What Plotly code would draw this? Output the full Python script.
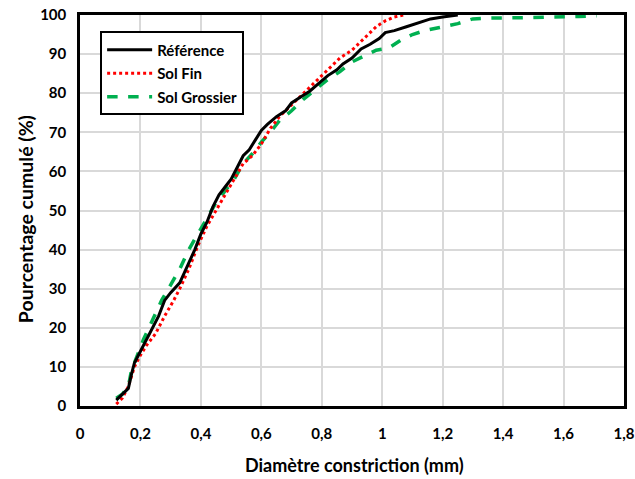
import plotly.graph_objects as go

ref_x = [0.12,0.14,0.16,0.17,0.18,0.20,0.22,0.24,0.26,0.28,0.30,0.33,0.35,0.38,0.40,0.42,0.44,0.46,0.48,0.50,0.52,0.54,0.56,0.58,0.60,0.62,0.65,0.68,0.70,0.73,0.76,0.79,0.82,0.85,0.87,0.90,0.93,0.96,0.99,1.01,1.04,1.08,1.12,1.16,1.20,1.25]
ref_y = [1.5,3,4.5,8,11,14,17,20,23,27,29,31.5,35,40,44,47,51,54,56,58,61,64,65.5,68,70.5,72,74,75.5,77.5,79,80.5,82.5,84.5,86,87.5,89,91.3,92.5,94,95.5,96,97,98,99,99.5,100]

fin_x = [0.12,0.14,0.16,0.18,0.20,0.22,0.25,0.28,0.31,0.33,0.36,0.39,0.42,0.45,0.48,0.51,0.54,0.57,0.60,0.63,0.66,0.70,0.74,0.78,0.82,0.86,0.90,0.94,0.98,1.01,1.04,1.07]
fin_y = [0.5,2,5,10,13,15.5,18.5,23,27,30,35,41,46,50,54,58,62,64,67,71,74,77,80,83,86,89,91,94,97,98.5,99.5,100]

gros_x = [0.12,0.14,0.16,0.17,0.19,0.21,0.24,0.27,0.30,0.33,0.36,0.39,0.42,0.45,0.48,0.51,0.54,0.57,0.60,0.63,0.66,0.70,0.74,0.78,0.82,0.86,0.90,0.94,0.98,1.02,1.06,1.10,1.14,1.19,1.25,1.30,1.35,1.45,1.55,1.65,1.71]
gros_y = [2,3,5,9,13,17,22,27,31,35,40,44,48,52,55,58,62,64.5,67.5,70,73,75.5,78.5,81,83.5,85.5,88,89.5,91,91.5,93.5,95,96,96.8,97.8,99,99.2,99.3,99.4,99.6,99.8]

x_title = "Diamètre constriction (mm)"
y_title = "Pourcentage cumulé (%)"

FONT = "Lato"

fig = go.Figure()
fig.add_trace(go.Scatter(x=gros_x, y=gros_y, mode="lines", name="Sol Grossier", legendgroup="c",
                         line=dict(color="#00b050", width=3.5, dash="dash"), legendrank=3))
fig.add_trace(go.Scatter(x=fin_x, y=fin_y, mode="lines", name="Sol Fin", legendgroup="b",
                         line=dict(color="#ff0000", width=3, dash="dot"), legendrank=2))
fig.add_trace(go.Scatter(x=ref_x, y=ref_y, mode="lines", name="Référence", legendgroup="a",
                         line=dict(color="#000000", width=3), legendrank=1))

fig.update_layout(
    width=635, height=479,
    margin=dict(l=80, r=11, t=15, b=73),
    paper_bgcolor="white", plot_bgcolor="white",
    separators=", ",
    font=dict(family=FONT, size=15, color="#000000"),
    legend=dict(x=0.037, y=0.958, xanchor="left", yanchor="top",
                bgcolor="white", bordercolor="black", borderwidth=2,
                font=dict(family=FONT, size=15, color="black", weight="bold"),
                traceorder="grouped", itemwidth=45, tracegroupgap=1),
    annotations=[
        dict(text=x_title, xref="paper", yref="paper", x=0.504, y=-0.151,
             xanchor="center", yanchor="middle", showarrow=False,
             font=dict(family=FONT, size=18, weight="bold", color="black")),
        dict(text=y_title, xref="paper", yref="paper", x=-0.101, y=0.478,
             xanchor="center", yanchor="middle", showarrow=False, textangle=-90,
             font=dict(family=FONT, size=19.5, weight="bold", color="black")),
    ],
)
fig.update_xaxes(range=[0, 1.8], dtick=0.2, tick0=0, automargin=False,
                 showgrid=True, gridcolor="#d9d9d9", gridwidth=2,
                 showline=True, linecolor="black", linewidth=2.5, mirror=True,
                 zeroline=False, ticks="", ticklabelstandoff=12,
                 tickfont=dict(family=FONT, size=15, weight="bold"))
fig.update_yaxes(range=[0, 100], dtick=10, automargin=False,
                 showgrid=True, gridcolor="#d9d9d9", gridwidth=2,
                 showline=True, linecolor="black", linewidth=2.5, mirror=True,
                 zeroline=False, ticks="", ticklabelstandoff=8,
                 tickfont=dict(family=FONT, size=15, weight="bold"))

# remove the default page margin so the 635x479 figure fills the window exactly
fig.write_html("out.html", config={"displayModeBar": False},
               post_script="document.body.style.margin='0px';document.body.style.overflow='hidden';")
